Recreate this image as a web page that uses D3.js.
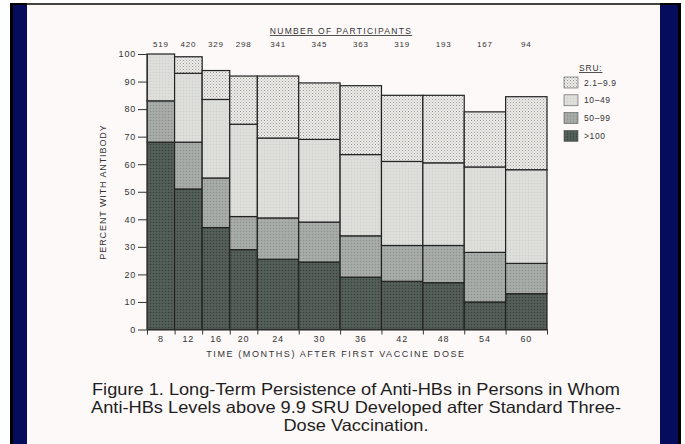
<!DOCTYPE html>
<html>
<head>
<meta charset="utf-8">
<script src="https://cdn.jsdelivr.net/npm/d3@7"></script>
<style>
  body { margin: 0; background: #fff; }
  text { font-family: "Liberation Sans", Arial, sans-serif; }
</style>
</head>
<body>
<div id="chart"></div>
<script>
// Data
var months = [8, 12, 16, 20, 24, 30, 36, 42, 48, 54, 60];
var participants = [519, 420, 329, 298, 341, 345, 363, 319, 193, 167, 94];
var sruLevels = [">100", "50\u201399", "10\u201349", "2.1\u20139.9"];
var over100 = [68, 51, 37, 29, 25.5, 24.5, 19, 17.5, 17, 10, 13];
var sru50to99 = [15, 17, 18, 12, 15, 14.5, 15, 13, 13.5, 18, 11];
var sru10to49 = [17, 25, 28.5, 33.5, 29, 30, 29.5, 30.5, 30, 31, 34];
var sru2to9 = [0, 6, 10.5, 17.5, 22.5, 20.5, 25, 24, 24.5, 20, 26.5];
var yTicks = [0, 10, 20, 30, 40, 50, 60, 70, 80, 90, 100];

var width = 685, height = 444;
var margin = { top: 54, right: 138, bottom: 114.5, left: 147 };

var svg = d3.select("#chart").append("svg")
    .attr("width", width)
    .attr("height", height);

// slide frame
svg.append("rect").attr("width", width).attr("height", height).attr("fill", "#fff");
svg.append("rect").attr("x", 10).attr("y", 3).attr("width", 671).attr("height", 441).attr("fill", "#000");
svg.append("rect").attr("x", 13).attr("y", 5).attr("width", 665).attr("height", 439).attr("fill", "#050c5c");
svg.append("rect").attr("x", 27).attr("y", 3).attr("width", 633).attr("height", 2).attr("fill", "#444");
svg.append("rect").attr("x", 27).attr("y", 5).attr("width", 633).attr("height", 439).attr("fill", "#fdf9f9");

// textures for the scanned fills
var defs = svg.append("defs");
function texture(id, base, dot, dot2) {
    var p = defs.append("pattern")
        .attr("id", id)
        .attr("width", 3).attr("height", 3)
        .attr("patternUnits", "userSpaceOnUse");
    p.append("rect").attr("width", 3).attr("height", 3).attr("fill", base);
    p.append("rect").attr("x", 0).attr("y", 0).attr("width", 1).attr("height", 1).attr("fill", dot);
    p.append("rect").attr("x", 1.5).attr("y", 1.5).attr("width", 1).attr("height", 1).attr("fill", dot2);
}
texture("tex0", "#505a55", "#36403b", "#68716c");   // >100
texture("tex1", "#a3a8a4", "#8a908b", "#b8bcb8");   // 50-99
texture("tex2", "#dcdcd8", "#cfd0cc", "#e6e6e2");   // 10-49
texture("tex3", "#ecebe8", "#9a9a98", "#b4b4b2");   // 2.1-9.9
var fills = ["url(#tex0)", "url(#tex1)", "url(#tex2)", "url(#tex3)"];

// rows for stacking
var rows = months.map(function (m, i) {
    var r = { month: m, n: participants[i] };
    r[sruLevels[0]] = over100[i];
    r[sruLevels[1]] = sru50to99[i];
    r[sruLevels[2]] = sru10to49[i];
    r[sruLevels[3]] = sru2to9[i];
    return r;
});

// bar width follows the gap to the next visit
var edges = [0];
months.forEach(function (m, i) {
    var gap = i < months.length - 1 ? months[i + 1] - m : m - months[i - 1];
    edges.push(edges[i] + gap);
});

var x = d3.scaleLinear()
    .domain([0, edges[edges.length - 1]])
    .range([margin.left, width - margin.right]);
var y = d3.scaleLinear()
    .domain([0, 100])
    .range([height - margin.bottom, margin.top]);

var stack = d3.stack().keys(sruLevels)(rows);

// bars
var layer = svg.append("g")
    .selectAll("g")
    .data(stack)
    .join("g")
    .attr("fill", function (d, i) { return fills[i]; });

layer.selectAll("rect")
    .data(function (d) { return d; })
    .join("rect")
    .attr("x", function (d, i) { return x(edges[i]); })
    .attr("width", function (d, i) { return x(edges[i + 1]) - x(edges[i]); })
    .attr("y", function (d) { return y(d[1]); })
    .attr("height", function (d) { return y(d[0]) - y(d[1]); })
    .attr("stroke", "#222")
    .attr("stroke-width", 1.2);

// y axis
var yAxis = svg.append("g")
    .attr("transform", "translate(" + margin.left + ",0)")
    .call(d3.axisLeft(y).tickValues(yTicks).tickSize(9).tickSizeOuter(0).tickPadding(2));
yAxis.select(".domain").attr("stroke", "#333").attr("stroke-width", 1.1);
yAxis.selectAll(".tick line").attr("stroke", "#333").attr("stroke-width", 1);
yAxis.selectAll(".tick text")
    .attr("fill", "#333")
    .style("font-size", "9px")
    .style("letter-spacing", "0.8px")
    .style("font-family", "'Liberation Sans', Arial, sans-serif");

// x axis: ticks at bar edges, labels at bar centres
var xAxis = svg.append("g")
    .attr("transform", "translate(0," + y(0) + ")")
    .call(d3.axisBottom(x).tickValues(edges).tickSize(5).tickSizeOuter(0).tickFormat(""));
xAxis.select(".domain").attr("stroke", "#333").attr("stroke-width", 1.1);
xAxis.selectAll(".tick line").attr("stroke", "#333");

svg.append("g")
    .selectAll("text")
    .data(months)
    .join("text")
    .attr("x", function (d, i) { return x((edges[i] + edges[i + 1]) / 2); })
    .attr("y", y(0) + 12)
    .attr("text-anchor", "middle")
    .attr("fill", "#333")
    .style("font-size", "9px")
    .style("letter-spacing", "0.8px")
    .text(function (d) { return d; });

svg.append("text")
    .attr("x", 336)
    .attr("y", 357)
    .attr("text-anchor", "middle")
    .attr("fill", "#333")
    .style("font-size", "9px")
    .style("letter-spacing", "1.6px")
    .text("TIME (MONTHS) AFTER FIRST VACCINE DOSE");

svg.append("text")
    .attr("transform", "translate(106,192) rotate(-90)")
    .attr("text-anchor", "middle")
    .attr("fill", "#333")
    .style("font-size", "9px")
    .style("letter-spacing", "0.9px")
    .text("PERCENT WITH ANTIBODY");

// participants row
svg.append("text")
    .attr("x", 341)
    .attr("y", 34)
    .attr("text-anchor", "middle")
    .attr("fill", "#333")
    .style("font-size", "8.5px")
    .style("letter-spacing", "1.3px")
    .style("text-decoration", "underline")
    .text("NUMBER OF PARTICIPANTS");

svg.append("g")
    .selectAll("text")
    .data(rows)
    .join("text")
    .attr("x", function (d, i) { return x((edges[i] + edges[i + 1]) / 2); })
    .attr("y", 47)
    .attr("text-anchor", "middle")
    .attr("fill", "#333")
    .style("font-size", "8px")
    .style("letter-spacing", "0.8px")
    .text(function (d) { return d.n; });

// legend
var legend = svg.append("g").attr("transform", "translate(564,0)");
legend.append("text")
    .attr("x", 15).attr("y", 71)
    .attr("fill", "#333")
    .style("font-size", "8.5px")
    .style("letter-spacing", "0.8px")
    .style("text-decoration", "underline")
    .text("SRU:");
var legendKeys = sruLevels.slice().reverse();
var item = legend.selectAll("g.item")
    .data(legendKeys)
    .join("g")
    .attr("class", "item")
    .attr("transform", function (d, i) { return "translate(0," + (77 + i * 17.8) + ")"; });
item.append("rect")
    .attr("width", 14).attr("height", 11)
    .attr("fill", function (d) { return fills[sruLevels.indexOf(d)]; })
    .attr("stroke", "#555")
    .attr("stroke-width", 0.6);
item.append("text")
    .attr("x", 20).attr("y", 8.5)
    .attr("fill", "#333")
    .style("font-size", "8.5px")
    .style("letter-spacing", "0.6px")
    .text(function (d) { return d; });

// caption
var caption = [
    "Figure 1. Long-Term Persistence of Anti-HBs in Persons in Whom",
    "Anti-HBs Levels above 9.9 SRU Developed after Standard Three-",
    "Dose Vaccination."
];
var captionWidths = [528, 530, 145];
svg.append("g")
    .selectAll("text")
    .data(caption)
    .join("text")
    .attr("x", 356)
    .attr("y", function (d, i) { return 395 + i * 18; })
    .attr("text-anchor", "middle")
    .attr("fill", "#1e1e1e")
    .attr("textLength", function (d, i) { return captionWidths[i]; })
    .attr("lengthAdjust", "spacingAndGlyphs")
    .style("font-size", "16.5px")
    .text(function (d) { return d; });
</script>
</body>
</html>
